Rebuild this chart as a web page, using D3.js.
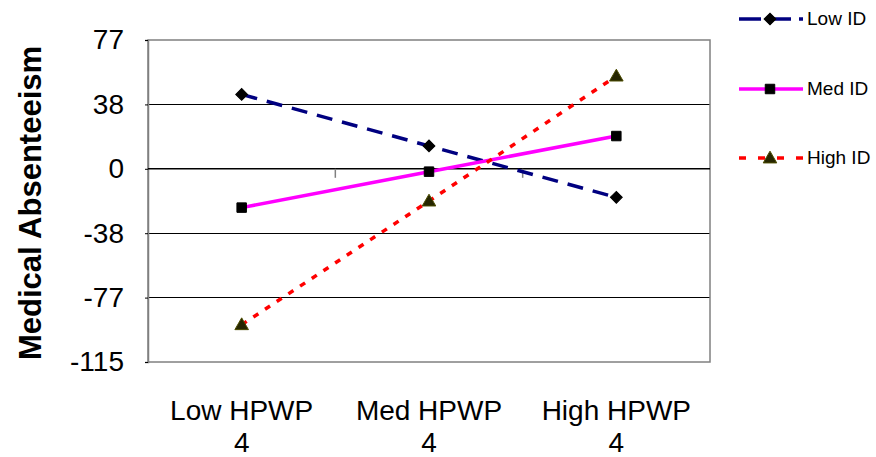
<!DOCTYPE html>
<html>
<head>
<meta charset="utf-8">
<script src="https://cdn.jsdelivr.net/npm/d3@7/dist/d3.min.js"></script>
<style>
  html, body { margin: 0; padding: 0; background: #fff; }
  svg { display: block; font-family: Arial, "Liberation Sans", sans-serif; }
</style>
</head>
<body>
<svg id="chart" width="876" height="457"></svg>
<script>
// Category labels (two lines each)
const categories = ["Low HPWP", "Med HPWP", "High HPWP"];
const categorySub = ["4", "4", "4"];

// Series values
const seriesNames = ["Low ID", "Med ID", "High ID"];
const lowID  = [44.3, 13.6, -17.0];
const medID  = [-23.1, -1.7, 19.5];
const highID = [-92.8, -19.2, 55.2];

// Y axis ticks and their printed labels
const yTicks = [-115, -76.67, -38.33, 0, 38.33, 76.67];
const yTickLabels = ["-115", "-77", "-38", "0", "38", "77"];

const svg = d3.select("#chart");
const plot = { left: 148, top: 40, right: 710, bottom: 362 };

const x = d3.scaleBand().domain(categories).range([plot.left, plot.right]).padding(0);
const y = d3.scaleLinear().domain([-115, 76.67]).range([plot.bottom, plot.top]);
const cx = c => x(c) + x.bandwidth() / 2;

const series = [
  { name: seriesNames[0], values: lowID,  color: "#000080", dash: "16,10", marker: "diamond" },
  { name: seriesNames[1], values: medID,  color: "#FF00FF", dash: null,    marker: "square" },
  { name: seriesNames[2], values: highID, color: "#FF0000", dash: "6,8",   marker: "triangle" }
];

// Horizontal gridlines
svg.append("g").selectAll("line")
  .data(yTicks.filter(t => t !== -115 && t !== 76.67))
  .join("line")
  .attr("x1", plot.left).attr("x2", plot.right)
  .attr("y1", d => y(d)).attr("y2", d => y(d))
  .attr("stroke", "#000").attr("stroke-width", 1)
  .attr("shape-rendering", "crispEdges");

// Plot frame
svg.append("rect")
  .attr("x", plot.left).attr("y", plot.top)
  .attr("width", plot.right - plot.left).attr("height", plot.bottom - plot.top)
  .attr("fill", "none").attr("stroke", "#808080").attr("stroke-width", 1.5);

// Y axis
const yAxis = d3.axisLeft(y)
  .tickValues(yTicks)
  .tickFormat((d, i) => yTickLabels[i])
  .tickSize(3).tickPadding(21);
const gy = svg.append("g").attr("transform", `translate(${plot.left},0)`).call(yAxis);
gy.select(".domain").attr("stroke", "#808080").attr("stroke-width", 1.5);
gy.selectAll(".tick line").attr("stroke", "#000");
gy.selectAll(".tick text")
  .attr("font-size", 28).attr("fill", "#000")
  .attr("font-family", "Arial, 'Liberation Sans', sans-serif");

// Category axis along zero with tick marks at category boundaries
svg.append("line")
  .attr("x1", plot.left).attr("x2", plot.right)
  .attr("y1", y(0)).attr("y2", y(0))
  .attr("stroke", "#000").attr("stroke-width", 1.5);
svg.append("g").selectAll("line")
  .data(categories.slice(1))
  .join("line")
  .attr("x1", d => x(d)).attr("x2", d => x(d))
  .attr("y1", y(0)).attr("y2", y(0) + 9)
  .attr("stroke", "#808080").attr("stroke-width", 1.5);

// Category labels under the plot
const xl = svg.append("g").selectAll("text")
  .data(categories)
  .join("text")
  .attr("x", d => cx(d))
  .attr("y", 420)
  .attr("text-anchor", "middle")
  .attr("font-size", 28)
  .attr("fill", "#000");
xl.append("tspan").attr("x", d => cx(d)).text(d => d);
xl.append("tspan").attr("x", d => cx(d)).attr("dy", 32).text((d, i) => categorySub[i]);

// Y axis title
svg.append("text")
  .attr("transform", `translate(41,${(plot.top + plot.bottom) / 2 + 2}) rotate(-90)`)
  .attr("text-anchor", "middle")
  .attr("font-size", 31)
  .attr("font-weight", "bold")
  .attr("fill", "#000")
  .text("Medical Absenteeism");

// Marker shapes
const markerPath = {
  diamond: d3.symbol(d3.symbolSquare, 70)(),
  square: d3.symbol(d3.symbolSquare, 90)(),
  triangle: d3.symbol(d3.symbolTriangle, 80)()
};
const markerFill = { diamond: "#000", square: "#000", triangle: "#262600" };
const markerStroke = { diamond: "#000", square: "#000", triangle: "#4d4d00" };

function drawMarker(g, type, px, py) {
  const p = g.append("path")
    .attr("d", markerPath[type])
    .attr("fill", markerFill[type])
    .attr("stroke", markerStroke[type])
    .attr("stroke-width", 1);
  if (type === "diamond") p.attr("transform", `translate(${px},${py}) rotate(45)`);
  else if (type === "triangle") p.attr("transform", `translate(${px},${py + 1})`);
  else p.attr("transform", `translate(${px},${py})`);
}

const line = d3.line().x((d, i) => cx(categories[i])).y(d => y(d));

series.forEach(s => {
  const g = svg.append("g");
  g.append("path")
    .attr("d", line(s.values))
    .attr("fill", "none")
    .attr("stroke", s.color)
    .attr("stroke-width", 3.5)
    .attr("stroke-dasharray", s.dash);
  s.values.forEach((v, i) => drawMarker(g, s.marker, cx(categories[i]), y(v)));
});

// Legend
const legendY = [19, 89, 158];
series.forEach((s, i) => {
  const g = svg.append("g");
  g.append("line")
    .attr("x1", 739).attr("x2", 803)
    .attr("y1", legendY[i]).attr("y2", legendY[i])
    .attr("stroke", s.color).attr("stroke-width", 3.5)
    .attr("stroke-dasharray", s.dash === null ? null : (s.marker === "diamond" ? "22,8" : "7,12"));
  drawMarker(g, s.marker, 770, legendY[i]);
  g.append("text")
    .attr("x", 807).attr("y", legendY[i] + 6)
    .attr("font-size", 19).attr("fill", "#000")
    .text(s.name);
});
</script>
</body>
</html>
